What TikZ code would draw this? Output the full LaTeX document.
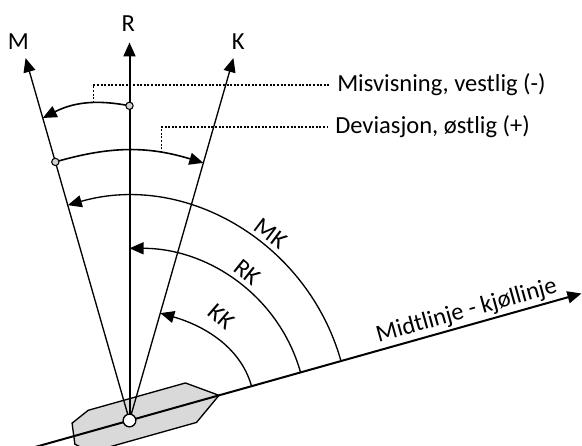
\documentclass[tikz,border=0pt]{standalone}
\usepackage{fontspec}
\setmainfont{Carlito}
\usetikzlibrary{arrows.meta}
\begin{document}
\begin{tikzpicture}[x=0.75pt,y=0.75pt,
  lbl/.style={font=\fontsize{18.4}{21}\selectfont, inner sep=0pt},
  tip/.style={-{Triangle[length=10.5pt,width=9pt]}},
  thickln/.style={line width=1.5pt},
  thinln/.style={line width=1pt},
  arcln/.style={line width=1.2pt},
  leader/.style={line width=0.8pt, dash pattern=on 1.5pt off 1.2pt},
  smalldot/.style={circle, draw, line width=0.8pt, fill=gray!35, inner sep=0pt, minimum size=5.5pt},
]
\clip (0,0) rectangle (582,446);
\coordinate (C) at (129.5,25.5);
% ship hull
\draw[thinln, fill=gray!30, shift={(C)}, rotate=15.7]
  (93,0) -- (64,21) -- (-37,21) -- (-56,13) -- (-59,-8) -- (-46,-20) -- (64,-20) -- cycle;
% key points
\path (C) ++(195.7:110) coordinate (midA);
\path (C) ++(15.7:469.5) coordinate (midB);
\path (C) ++(90:378) coordinate (Rtip);
\path (C) ++(106:377) coordinate (Mtip);
\path (C) ++(74:377) coordinate (Ktip);
% midline
\draw[thickln, tip] (midA) -- (midB);
\node[lbl, rotate=15.7] (midl) at (466.7,134.8) {Midtlinje - kjøllinje};
% direction lines
\draw[thickln, tip] (C) -- (Rtip);
\draw[thinln, tip] (C) -- (Mtip);
\draw[thinln, tip] (C) -- (Ktip);
\node[lbl] (Rl) at (128.3,422.7) {R};
\node[lbl] (Ml) at (18.3,404.3) {M};
\node[lbl] (Kl) at (238.3,404.3) {K};
% course arcs
\path (C) ++(15.7:126.8) coordinate (kk1);
\path (C) ++(74:111.7) coordinate (kk2);
\path (C) ++(15.7:177.7) coordinate (rk1);
\path (C) ++(90:172.2) coordinate (rk2);
\path (C) ++(15.7:219.7) coordinate (mk1);
\path (C) ++(106:224) coordinate (mk2);
\draw[thinln, tip] (kk1) to[out=105.7, in=-16, looseness=0.93] (kk2);
\draw[thinln, tip] (rk1) to[out=105.7, in=0, looseness=0.96] (rk2);
\draw[thinln, tip] (mk1) to[out=105.7, in=16] (mk2);
\node[lbl, rotate=-41] (kkl) at (221.5,129.5) {KK};
\node[lbl, rotate=-38.6] (rkl) at (247.3,174) {RK};
\node[lbl, rotate=-37] (mkl) at (270.6,212.4) {MK};
% variation and deviation arcs
\path (C) ++(90:314.7) coordinate (mv1);
\path (C) ++(106:314.7) coordinate (mv2);
\path (C) ++(106:269) coordinate (dv1);
\path (C) ++(74:268) coordinate (dv2);
\draw[arcln, tip] (mv1) to[bend right=19] coordinate[pos=0.4] (mva) (mv2);
\draw[arcln, tip] (dv1) to[bend left=16.5] coordinate[pos=0.73] (dva) (dv2);
\node[lbl, anchor=west, inner xsep=6pt] (misv) at (329,361) {Misvisning, vestlig (-)};
\node[lbl, anchor=west, inner xsep=6pt] (devi) at (327,319) {Deviasjon, østlig (+)};
\draw[leader] (mva) |- (misv.west);
\draw[leader] (dva) |- (devi.west);
\node[smalldot] (c1) at (mv1) {};
\node[smalldot] (c2) at (dv1) {};
% ship centre
\node[circle, draw, fill=white, line width=1pt, minimum size=9.5pt, inner sep=0pt] (ship) at (C) {};
\end{tikzpicture}
\end{document}
